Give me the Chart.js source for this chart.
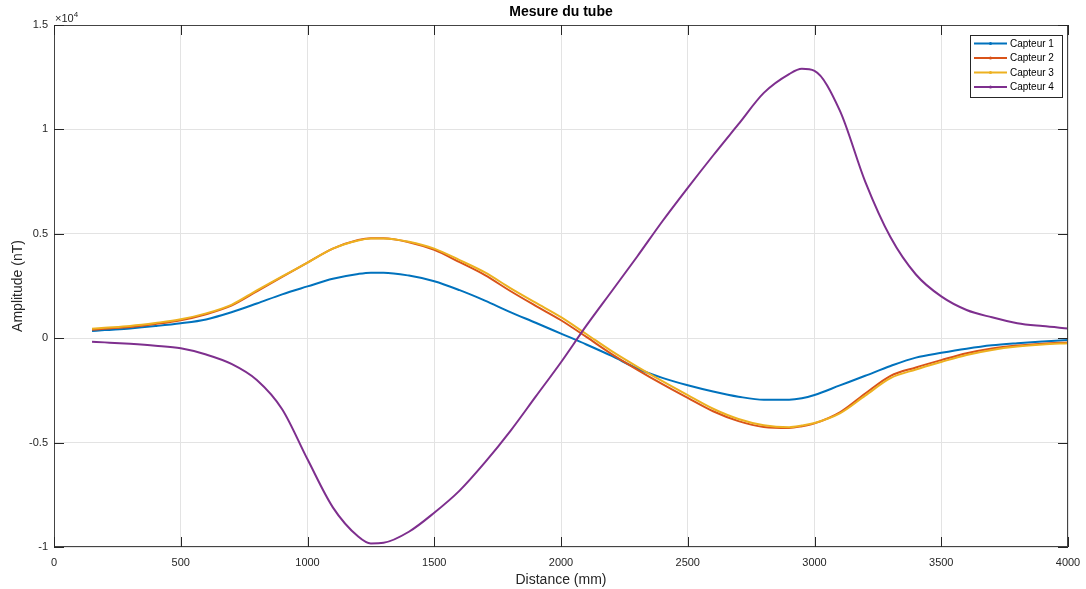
<!DOCTYPE html>
<html>
<head>
<meta charset="utf-8">
<script src="https://cdn.jsdelivr.net/npm/chart.js@4"></script>
<style>
    html, body { margin: 0; padding: 0; background: #fff; }
    #wrap { width: 1086px; height: 589px; }
</style>
</head>
<body>
<div id="wrap"><canvas id="tubeChart" width="1086" height="589"></canvas></div>
<script>
const distance = [150, 200, 300, 400, 500, 600, 700, 800, 900, 1000, 1100, 1200, 1250, 1300, 1400, 1500,
    1600, 1700, 1800, 1900, 2000, 2100, 2200, 2300, 2400, 2500, 2600, 2700, 2800, 2900, 2950, 3000,
    3100, 3200, 3300, 3400, 3500, 3600, 3700, 3800, 3900, 4000];

const capteur1 = [345, 390, 470, 580, 713, 900, 1240, 1660, 2100, 2480, 2850, 3080, 3140, 3140, 3000, 2730,
    2300, 1800, 1250, 740, 220, -300, -850, -1450, -1900, -2250, -2550, -2800, -2950, -2950, -2880, -2720,
    -2260, -1800, -1330, -930, -700, -500, -340, -240, -160, -90];

const capteur2 = [400, 450, 540, 680, 860, 1150, 1560, 2240, 2940, 3620, 4290, 4700, 4790, 4790, 4600, 4230,
    3640, 3020, 2260, 1550, 860, 60, -760, -1500, -2200, -2860, -3500, -3970, -4250, -4300, -4220, -4080,
    -3550, -2650, -1800, -1400, -1050, -720, -490, -350, -260, -200];

const capteur3 = [455, 500, 590, 730, 905, 1190, 1600, 2290, 2960, 3620, 4290, 4680, 4770, 4780, 4620, 4290,
    3740, 3150, 2400, 1700, 1010, 200, -620, -1360, -2060, -2730, -3380, -3870, -4170, -4260, -4180, -4060,
    -3600, -2750, -1910, -1500, -1140, -800, -560, -400, -300, -240];

const capteur4 = [-168, -200, -270, -360, -484, -780, -1230, -2000, -3400, -5800, -8100, -9500, -9830, -9800, -9270, -8360,
    -7300, -5950, -4450, -2800, -1150, 600, 2250, 3900, 5600, 7200, 8750, 10250, 11750, 12650, 12900, 12800,
    10900, 7500, 4830, 3050, 2000, 1350, 1000, 720, 580, 470];

const labels = ["Capteur 1", "Capteur 2", "Capteur 3", "Capteur 4"];
const colors = ["#0072BD", "#D95319", "#EDB120", "#7E2F8E"];
const series = [capteur1, capteur2, capteur3, capteur4];

const FONT = "'Liberation Sans', Arial, Helvetica, sans-serif";
const AXIS = "#262626";

// MATLAB-like box, inward ticks, title, exponent and legend
const matlabDecor = {
    id: "matlabDecor",
    afterDraw(chart) {
        const ctx = chart.ctx;
        const a = chart.chartArea;
        const xs = chart.scales.x;
        const ys = chart.scales.y;
        ctx.save();

        // box
        ctx.strokeStyle = "#444";
        ctx.lineWidth = 1;
        ctx.strokeRect(a.left + 0.5, a.top + 0.5, a.right - a.left - 1, a.bottom - a.top - 1);

        // inward ticks
        ctx.strokeStyle = AXIS;
        ctx.beginPath();
        xs.ticks.forEach(t => {
            const px = Math.round(xs.getPixelForValue(t.value)) + 0.5;
            ctx.moveTo(px, a.bottom); ctx.lineTo(px, a.bottom - 10);
            ctx.moveTo(px, a.top); ctx.lineTo(px, a.top + 10);
        });
        ys.ticks.forEach(t => {
            const py = Math.round(ys.getPixelForValue(t.value)) + 0.5;
            ctx.moveTo(a.left, py); ctx.lineTo(a.left + 10, py);
            ctx.moveTo(a.right, py); ctx.lineTo(a.right - 10, py);
        });
        ctx.stroke();

        // title
        ctx.fillStyle = "#000";
        ctx.font = "bold 14px " + FONT;
        ctx.textAlign = "center";
        ctx.textBaseline = "middle";
        ctx.fillText("Mesure du tube", (a.left + a.right) / 2, 12);

        // exponent
        ctx.fillStyle = AXIS;
        ctx.textAlign = "left";
        ctx.textBaseline = "alphabetic";
        ctx.font = "11px " + FONT;
        ctx.fillText("\u00d710", a.left + 1, 22);
        const w = ctx.measureText("\u00d710").width;
        ctx.font = "8px " + FONT;
        ctx.fillText("4", a.left + 1 + w, 17);

        // legend
        const lx = 970, ly = 35, lw = 92, lh = 62;
        ctx.fillStyle = "#fff";
        ctx.fillRect(lx, ly, lw, lh);
        ctx.strokeStyle = "#262626";
        ctx.strokeRect(lx + 0.5, ly + 0.5, lw, lh);
        ctx.font = "10px " + FONT;
        ctx.textBaseline = "middle";
        chart.data.datasets.forEach((ds, i) => {
            const y = ly + 8.5 + i * 14.5;
            ctx.strokeStyle = ds.borderColor;
            ctx.lineWidth = 2;
            ctx.beginPath();
            ctx.moveTo(lx + 4, y); ctx.lineTo(lx + 37, y);
            ctx.stroke();
            ctx.fillStyle = ds.borderColor;
            ctx.beginPath();
            ctx.arc(lx + 20.5, y, 1.5, 0, Math.PI * 2);
            ctx.fill();
            ctx.fillStyle = "#000";
            ctx.fillText(ds.label, lx + 40, y + 0.5);
        });
        ctx.restore();
    }
};

const datasets = series.map((vals, i) => ({
    label: labels[i],
    data: distance.map((d, j) => ({ x: d, y: vals[j] })),
    borderColor: colors[i],
    backgroundColor: colors[i],
    borderWidth: 2,
    pointRadius: 0,
    cubicInterpolationMode: "monotone",
    order: 4 - i
}));

new Chart(document.getElementById("tubeChart"), {
    type: "line",
    data: { datasets: datasets },
    options: {
        responsive: false,
        animation: false,
        devicePixelRatio: 1,
        layout: { padding: { top: 25, right: 18, left: 0, bottom: 0 } },
        plugins: {
            legend: { display: false },
            title: { display: false },
            tooltip: { enabled: false }
        },
        scales: {
            x: {
                type: "linear",
                min: 0,
                max: 4000,
                afterFit: s => { s.height = 42; s.paddingLeft = 0; s.paddingRight = 0; },
                ticks: { stepSize: 500, color: AXIS, font: { family: FONT, size: 11 }, padding: 9, maxRotation: 0,
                    callback: v => String(v) },
                grid: { color: "#e3e3e3", drawTicks: false },
                border: { display: false },
                title: { display: true, text: "Distance (mm)", color: AXIS, font: { family: FONT, size: 14 }, padding: { top: 2, bottom: 0 } }
            },
            y: {
                type: "linear",
                min: -10000,
                max: 15000,
                afterFit: s => { s.width = 54; },
                ticks: {
                    stepSize: 5000,
                    color: AXIS,
                    font: { family: FONT, size: 11 },
                    padding: 6,
                    callback: v => String(v / 10000)
                },
                grid: { color: "#e3e3e3", drawTicks: false },
                border: { display: false },
                title: { display: true, text: "Amplitude (nT)", color: AXIS, font: { family: FONT, size: 14 }, padding: { top: 10, bottom: 0 } }
            }
        }
    },
    plugins: [matlabDecor]
});
</script>
</body>
</html>
